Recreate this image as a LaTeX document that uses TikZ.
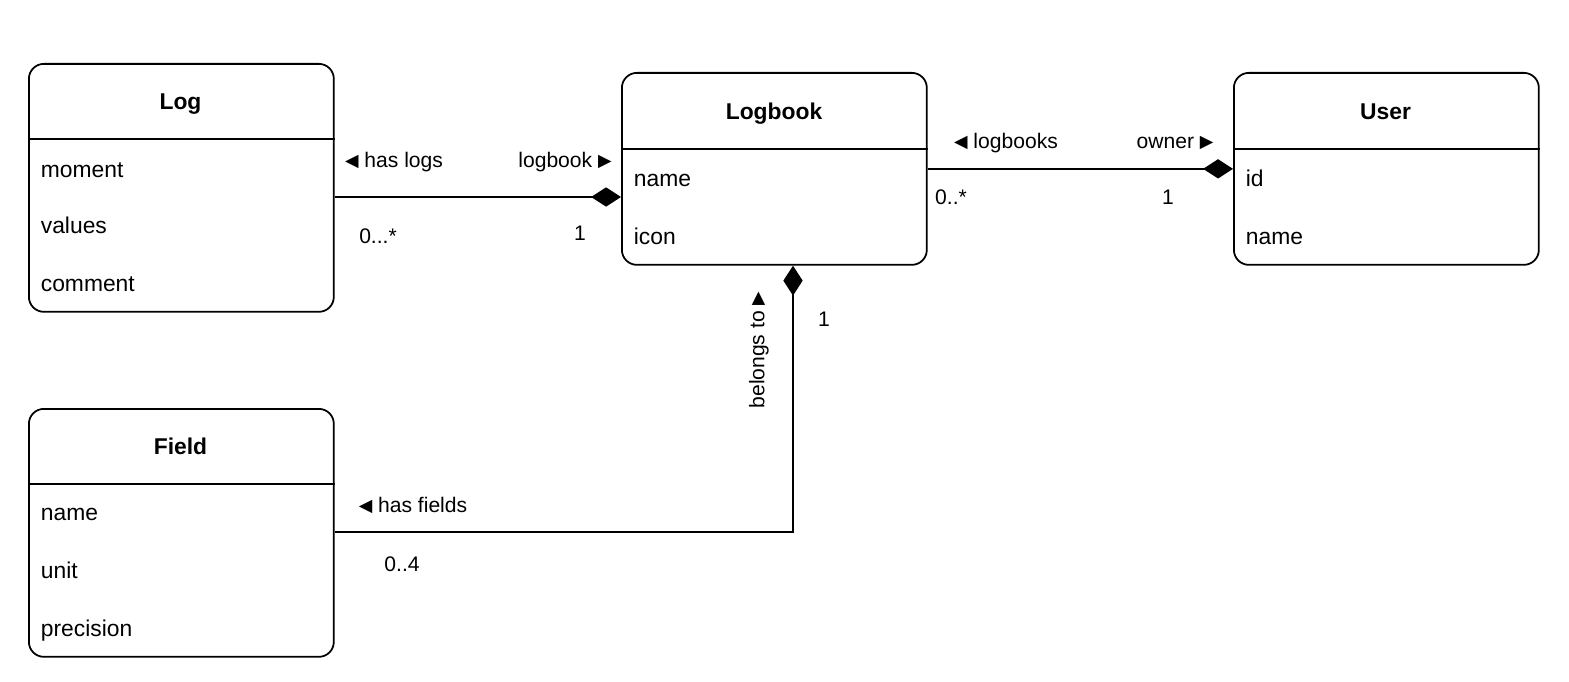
\documentclass[tikz,border=0pt]{standalone}
\usepackage{fontspec}
\setmainfont{Liberation Sans}
\newfontfamily\symfont{DejaVu Sans}
\usetikzlibrary{arrows.meta}

\newcommand{\tril}{{\symfont\fontsize{10}{10}\selectfont\raisebox{0.3pt}{◀}}}
\newcommand{\trir}{{\symfont\fontsize{10}{10}\selectfont\raisebox{0.3pt}{▶}}}

\begin{document}
\begin{tikzpicture}[
x=0.02cm, y=-0.02cm,
line width=1pt,
classbox/.style={
draw,
rounded corners=0.3cm,
anchor=north west,
minimum width=6.1cm,
inner sep=0pt
},
title/.style={
text height=11.5pt,
text depth=1.5pt,
inner sep=0pt,
font=\fontsize{13}{15}\selectfont\bfseries
},
attr/.style={
anchor=west,
text height=11.5pt,
text depth=1.5pt,
inner sep=0pt,
font=\fontsize{13}{15}\selectfont
},
lbl/.style={
text height=10.4pt,
text depth=2pt,
inner sep=0pt,
font=\fontsize{12}{14}\selectfont
},
comp/.tip={Diamond[length=17pt,width=11pt]}
]

\useasboundingbox (0,0) rectangle (1569,682);

% classes
\node[classbox, minimum height=4.96cm] (Log) at (28,63) {};
\node[title] (LogTitle) at (180.5,101) {Log};
\draw (Log.west |- 0,139) -- (Log.east |- 0,139);
\node[attr] (LogMoment) at (40,169) {moment};
\node[attr] (LogValues) at (40,225) {values};
\node[attr] (LogComment) at (40,283) {comment};

\node[classbox, minimum height=3.84cm] (Logbook) at (621,72) {};
\node[title] (LogbookTitle) at (774,111) {Logbook};
\draw (Logbook.west |- 0,149) -- (Logbook.east |- 0,149);
\node[attr] (LogbookName) at (633,178) {name};
\node[attr] (LogbookIcon) at (633,236) {icon};

\node[classbox, minimum height=3.84cm] (User) at (1233,72) {};
\node[title] (UserTitle) at (1385.5,111) {User};
\draw (User.west |- 0,149) -- (User.east |- 0,149);
\node[attr] (UserId) at (1245,178) {id};
\node[attr] (UserName) at (1245,236) {name};

\node[classbox, minimum height=4.96cm] (Field) at (28,408) {};
\node[title] (FieldTitle) at (180.5,446) {Field};
\draw (Field.west |- 0,484) -- (Field.east |- 0,484);
\node[attr] (FieldName) at (40,512) {name};
\node[attr] (FieldUnit) at (40,570) {unit};
\node[attr] (FieldPrecision) at (40,628) {precision};

% associations
\draw[-comp] (Log.east |- 0,197) -- (Logbook.west |- 0,197);
\draw[-comp] (Logbook) -- (User);
\draw[comp-] (Logbook.south -| 793,0) |- (Field.east |- 0,532);

% labels
\node[lbl] (HasLogs) at (394,160) {\tril\ has logs};
\node[lbl] (LogbookRole) at (565,160) {logbook \trir};
\node[lbl] (LogMult) at (378,236) {0...*};
\node[lbl] (LogbookMult) at (580,233) {1};

\node[lbl] (Logbooks) at (1006,141) {\tril\ logbooks};
\node[lbl] (Owner) at (1175,141) {owner \trir};
\node[lbl] (LogbooksMult) at (951,197) {0..*};
\node[lbl] (OwnerMult) at (1168,197) {1};

\node[lbl, rotate=90] (BelongsTo) at (757,350) {belongs to \trir};
\node[lbl] (BelongsMult) at (824,319) {1};
\node[lbl] (HasFields) at (413,505) {\tril\ has fields};
\node[lbl] (FieldMult) at (402,564) {0..4};

\end{tikzpicture}
\end{document}
